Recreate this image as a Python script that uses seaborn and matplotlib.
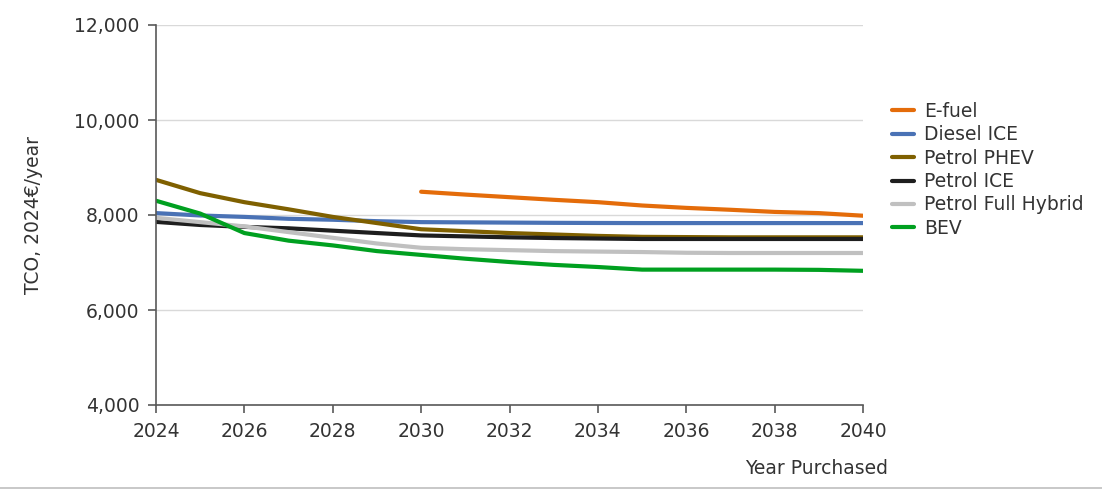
import numpy as np
import pandas as pd
import matplotlib
matplotlib.use("Agg")
import matplotlib.pyplot as plt
import seaborn as sns
from matplotlib.ticker import FuncFormatter

years = list(range(2024, 2041))
series_names = ["E-fuel", "Diesel ICE", "Petrol PHEV", "Petrol ICE", "Petrol Full Hybrid", "BEV"]
nan = np.nan
efuel = [nan, nan, nan, nan, nan, nan, 8490, 8430, 8375, 8320, 8270, 8200, 8150, 8110, 8065, 8040, 7985]
diesel_ice = [8040, 7990, 7960, 7920, 7900, 7870, 7850, 7845, 7840, 7835, 7832, 7830, 7830, 7830, 7830, 7830, 7830]
petrol_phev = [8740, 8460, 8270, 8120, 7960, 7830, 7700, 7660, 7620, 7590, 7560, 7540, 7535, 7530, 7530, 7530, 7530]
petrol_ice = [7855, 7790, 7750, 7720, 7670, 7620, 7570, 7550, 7530, 7515, 7505, 7495, 7495, 7495, 7495, 7495, 7495]
petrol_hybrid = [7940, 7850, 7760, 7640, 7520, 7400, 7310, 7280, 7260, 7240, 7230, 7220, 7205, 7200, 7200, 7200, 7200]
bev = [8300, 8030, 7620, 7460, 7360, 7240, 7160, 7080, 7010, 6950, 6905, 6850, 6850, 6850, 6850, 6845, 6825]
y_ticks = [4000, 6000, 8000, 10000, 12000]
x_ticks = list(range(2024, 2041, 2))

colors = ["#E46C0A", "#4A72B5", "#7F6000", "#1E1E1E", "#C0C0C0", "#00A020"]

values = [efuel, diesel_ice, petrol_phev, petrol_ice, petrol_hybrid, bev]
frames = []
for name, vals in zip(series_names, values):
    frames.append(pd.DataFrame({"Year": years, "TCO": vals, "Type": name}))
df = pd.concat(frames, ignore_index=True)

sns.set_theme(style="white")
plt.rcParams['font.family'] = ['DejaVu Sans']

FS = 13.5
fig = plt.figure(figsize=(11.02, 4.91), dpi=100)
ax = fig.add_axes([156/1102, 1-405/491, (863-156)/1102, (405-25)/491])

sns.lineplot(data=df, x="Year", y="TCO", hue="Type", hue_order=series_names,
             palette=dict(zip(series_names, colors)), linewidth=3.0, ax=ax,
             legend=True)

ax.set_xlim(2024, 2040)
ax.set_ylim(4000, 12000)
ax.set_xticks(x_ticks)
ax.set_yticks(y_ticks)
ax.yaxis.set_major_formatter(FuncFormatter(lambda v, p: f"{int(v):,}"))
ax.grid(axis="y", color="#D9D9D9", linewidth=1.0)
ax.set_axisbelow(True)
for s in ["top", "right"]:
    ax.spines[s].set_visible(False)
for s in ["left", "bottom"]:
    ax.spines[s].set_color("#595959")
    ax.spines[s].set_linewidth(1.2)
ax.tick_params(axis="both", direction="out", length=6, width=1.2, color="#595959",
               labelsize=FS, labelcolor="#333333", bottom=True, left=True)
ax.tick_params(axis="x", pad=6)
ax.tick_params(axis="y", pad=6)
ax.set_xlabel("")
ax.set_ylabel("TCO, 2024€/year", fontsize=FS, color="#333333", labelpad=22)
fig.text(888/1102, 1-469/491, "Year Purchased", ha="right", va="center",
         fontsize=FS, color="#333333")

handles, labels = ax.get_legend_handles_labels()
ax.legend(handles, labels, loc="upper left", bbox_to_anchor=(875/1102, 1-85/491),
          bbox_transform=fig.transFigure, frameon=False, fontsize=FS,
          handlelength=1.2, handletextpad=0.5, labelspacing=0.235, labelcolor="#333333")

fig.add_artist(plt.Line2D([0, 1], [1-488/491, 1-488/491], color="#BFBFBF", linewidth=1.2,
                          transform=fig.transFigure))

fig.savefig("out.png", dpi=100)
